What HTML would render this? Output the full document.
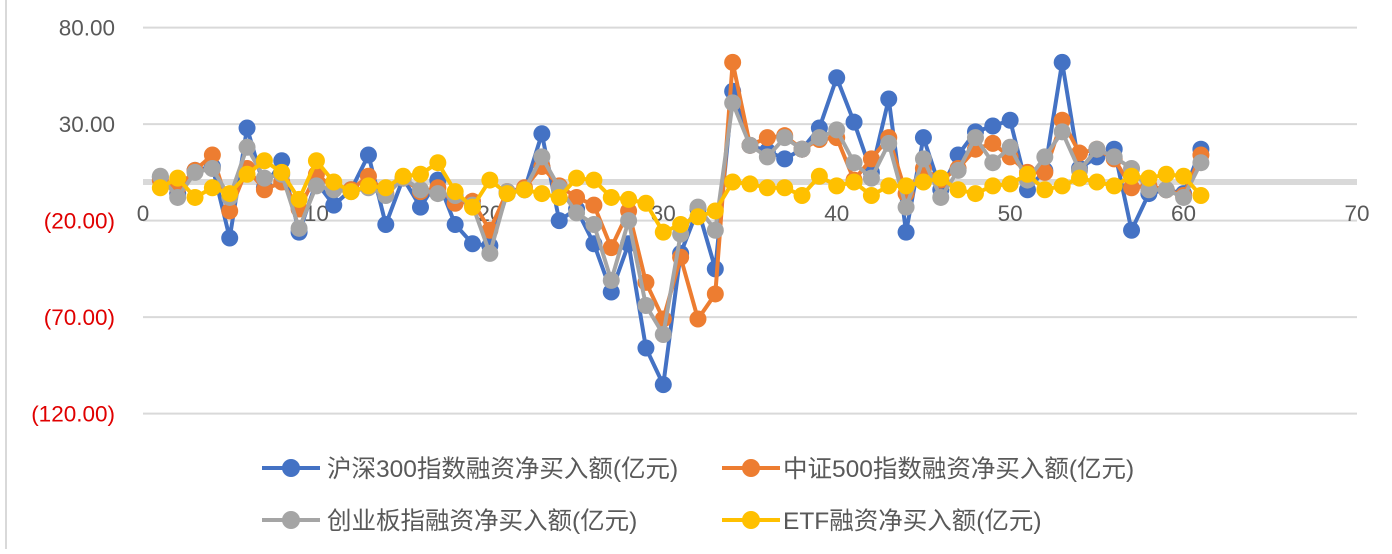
<!DOCTYPE html>
<html><head><meta charset="utf-8"><style>
body{margin:0;background:#fff;}
svg text{font-family:"Liberation Sans","Noto Sans CJK SC",sans-serif;}
</style></head><body>
<svg id="chart" width="1392" height="549" xmlns="http://www.w3.org/2000/svg">
<rect x="0" y="0" width="1392" height="549" fill="#fff"/>
<line x1="6" y1="0" x2="6" y2="549" stroke="#d9d9d9" stroke-width="2"/>
<g id="grid"></g><g id="yaxis"></g><g id="xaxis"></g><g id="series"></g>
<g>
 <g>
  <line x1="262" y1="468" x2="320" y2="468" stroke="#4472c4" stroke-width="4"/><circle cx="291" cy="468" r="9" fill="#4472c4"/>
  <text x="327" y="477" font-size="24.5" fill="#595959">沪深300指数融资净买入额(亿元)</text></g>
 <g>
  <line x1="722" y1="468" x2="780" y2="468" stroke="#ed7d31" stroke-width="4"/><circle cx="751" cy="468" r="9" fill="#ed7d31"/>
  <text x="783" y="477" font-size="24.5" fill="#595959">中证500指数融资净买入额(亿元)</text></g>
 <g>
  <line x1="262" y1="520" x2="320" y2="520" stroke="#a5a5a5" stroke-width="4"/><circle cx="291" cy="520" r="9" fill="#a5a5a5"/>
  <text x="327" y="529" font-size="24.5" fill="#595959">创业板指融资净买入额(亿元)</text></g>
 <g>
  <line x1="722" y1="520" x2="780" y2="520" stroke="#ffc000" stroke-width="4"/><circle cx="751" cy="520" r="9" fill="#ffc000"/>
  <text x="783" y="529" font-size="24.5" fill="#595959">ETF融资净买入额(亿元)</text></g>
</g>
</svg>
<script>
const yTicks=[80,30,-20,-70,-120];
const yTickLabels=["80.00","30.00","(20.00)","(70.00)","(120.00)"];
const xTicks=[0,10,20,30,40,50,60,70];
const hs300=[2.5,-6,6,8,-29,28,-3,11,-26,0,-12,-4,14,-22,2,-13,1,-22,-32,-33,-6,-4,25,-20,-14,-32,-57,-32,-86,-105,-37,-14,-45,47,19,16,12,17,28,54,31,5,43,-26,23,-4,14,26,29,32,-4,6,62,7,13,17,-25,-6,-4,-6,17];
const zz500=[1,-3,6,14,-15,7,-4,0,-14,4,-3,-4,3,-6,2,-5,-3,-11,-10,-25,-5,-3,8,-2,-8,-12,-34,-15,-52,-71,-39,-71,-58,62,19,23,24,17,22,23,1,12,23,-6,7,1,7,17,20,13,5,5,32,15,17,12,-3,-2,-4,-7,14];
const cyb=[3,-8,5,7,-8,18,2,4,-24,-2,-4,-5,-3,-7,2,-4,-6,-7,-12,-37,-5,-4,13,-3,-16,-22,-51,-20,-64,-79,-27,-13,-25,41,19,13,23,17,23,27,10,2,20,-13,12,-8,6,23,10,18,1,13,26,6,17,13,7,-4,-4,-8,10];
const etf=[-3,2,-8,-3,-6,4,11,5,-9,11,0,-5,-2,-3,3,4,10,-5,-13,1,-6,-4,-6,-8,2,1,-8,-9,-11,-26,-22,-18,-15,0,-1,-3,-3,-7,3,-2,0,-7,-2,-2,0,2,-4,-6,-2,-1,4,-4,-2,2,0,-2,3,2,4,3,-7];
const NS="http://www.w3.org/2000/svg";
const X0=143,X1=1357,XMAX=70;
function xs(i){return X0+(X1-X0)*i/XMAX;}
function ys(v){return 182-1.93*v;}
function mk(tag,attrs,parent){const e=document.createElementNS(NS,tag);for(const k in attrs)e.setAttribute(k,attrs[k]);parent.appendChild(e);return e;}
const grid=document.getElementById('grid'),ya=document.getElementById('yaxis'),xa=document.getElementById('xaxis'),ser=document.getElementById('series');
yTicks.forEach((t,i)=>{
 const l=mk('line',{x1:X0,x2:X1,y1:ys(t),y2:ys(t),stroke:'#d9d9d9','stroke-width':2},grid);
 
 
 const tx=mk('text',{x:115,y:ys(t)+8,'text-anchor':'end','font-size':22.5,fill:t<0?'#e00000':'#595959'},ya);
 tx.textContent=yTickLabels[i];
 
 
});
const zl=mk('line',{x1:X0,x2:X1,y1:ys(0),y2:ys(0),stroke:'#d9d9d9','stroke-width':6},grid);


xTicks.forEach(t=>{
 const tx=mk('text',{x:xs(t),y:221,'text-anchor':'middle','font-size':22.5,fill:'#595959'},xa);
 tx.textContent=String(t);
 
 
});
function draw(data,color,name){
 const g=mk('g',{},ser);
 
 
 const pts=data.map((v,i)=>xs(i+1)+','+ys(v)).join(' ');
 const pl=mk('polyline',{points:pts,fill:'none',stroke:color,'stroke-width':4,'stroke-linejoin':'round'},g);
 
 
 data.forEach((v,i)=>{
  const c=mk('circle',{cx:xs(i+1),cy:ys(v),r:8.5,fill:color},g);
  
  
 });
}
draw(hs300,'#4472c4','series-hs300');
draw(zz500,'#ed7d31','series-zz500');
draw(cyb,'#a5a5a5','series-cyb');
draw(etf,'#ffc000','series-etf');
</script>
</body></html>
